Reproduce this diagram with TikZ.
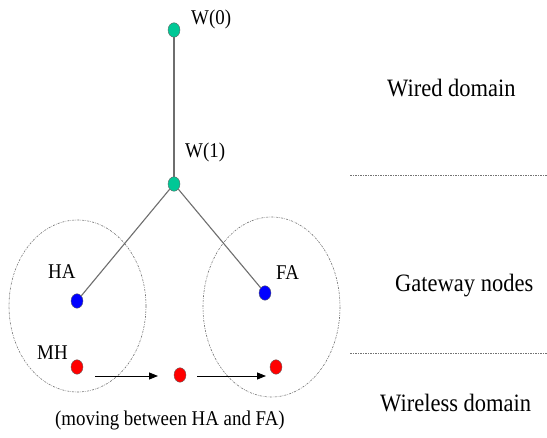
\documentclass[tikz,border=0pt]{standalone}
\usepackage{fontspec}
\setmainfont{Liberation Serif}
\usetikzlibrary{shapes.geometric,arrows.meta}
\definecolor{wirecol}{RGB}{0,200,150}
\definecolor{edgecol}{RGB}{110,110,110}
\begin{document}
\begin{tikzpicture}[x=1pt,y=-1pt,
  dot/.style={ellipse,draw=black!60,line width=0.4pt,inner sep=0pt,minimum width=12pt,minimum height=14.5pt},
  wdot/.style={dot,fill=wirecol},
  bdot/.style={dot,fill=blue},
  rdot/.style={dot,fill=red},
  link/.style={draw=edgecol,line width=1.1pt},
  zone/.style={draw=gray!90!black,line width=0.6pt,dash pattern=on 2pt off 1.2pt on 0.6pt off 1.2pt},
  lbl/.style={anchor=base west,inner sep=0pt,font=\fontsize{21}{21}\selectfont},
  dom/.style={anchor=base west,inner sep=0pt,font=\fontsize{25}{25}\selectfont},
  move/.style={-{Triangle[length=9pt,width=7pt]},line width=0.9pt}
]
\useasboundingbox (0,0) rectangle (547,438);
\fill[white] (0,0) rectangle (547,438);

% zones
\draw[zone] (77.5,306) ellipse [x radius=68.5, y radius=86];
\draw[zone] (271.5,307) ellipse [x radius=68.5, y radius=90];
\coordinate (s1a) at (350,175); \coordinate (s1b) at (547,175);
\coordinate (s2a) at (350,353); \coordinate (s2b) at (547,353);
\draw[zone] (s1a) -- (s1b);
\draw[zone] (s2a) -- (s2b);

% nodes
\node[wdot] (w0) at (174,30) {};
\node[wdot] (w1) at (174,184) {};
\node[bdot] (ha) at (77,301) {};
\node[bdot] (fa) at (265,293) {};
\node[rdot] (mh) at (77,367) {};
\node[rdot] (mid) at (180,375) {};
\node[rdot] (dst) at (276,367) {};

% links
\draw[link] (w0) -- (w1);
\draw[link] (w1) -- (ha);
\draw[link] (w1) -- (fa);

% movement arrows
\coordinate (a1s) at (95,376); \coordinate (a1e) at (158,376);
\coordinate (a2s) at (197,376); \coordinate (a2e) at (266,376);
\draw[move] (a1s) -- (a1e);
\draw[move] (a2s) -- (a2e);

% labels
\node[lbl] (lw0) at (191,25) {\scalebox{0.9}[1]{W(0)}};
\node[lbl] (lw1) at (185,158) {\scalebox{0.9}[1]{W(1)}};
\node[lbl] (lha) at (48,279) {\scalebox{0.9}[1]{HA}};
\node[lbl] (lfa) at (276,280) {\scalebox{0.9}[1]{FA}};
\node[lbl] (lmh) at (37,360) {\scalebox{0.9}[1]{MH}};
\node[lbl] (lmove) at (55,426) {\scalebox{0.9}[1]{(moving between HA and FA)}};

\node[dom] (dwired) at (387,97) {\scalebox{0.9}[1]{Wired domain}};
\node[dom] (dgate) at (395,292) {\scalebox{0.9}[1]{Gateway nodes}};
\node[dom] (dwless) at (380,412) {\scalebox{0.9}[1]{Wireless domain}};
\end{tikzpicture}
\end{document}
